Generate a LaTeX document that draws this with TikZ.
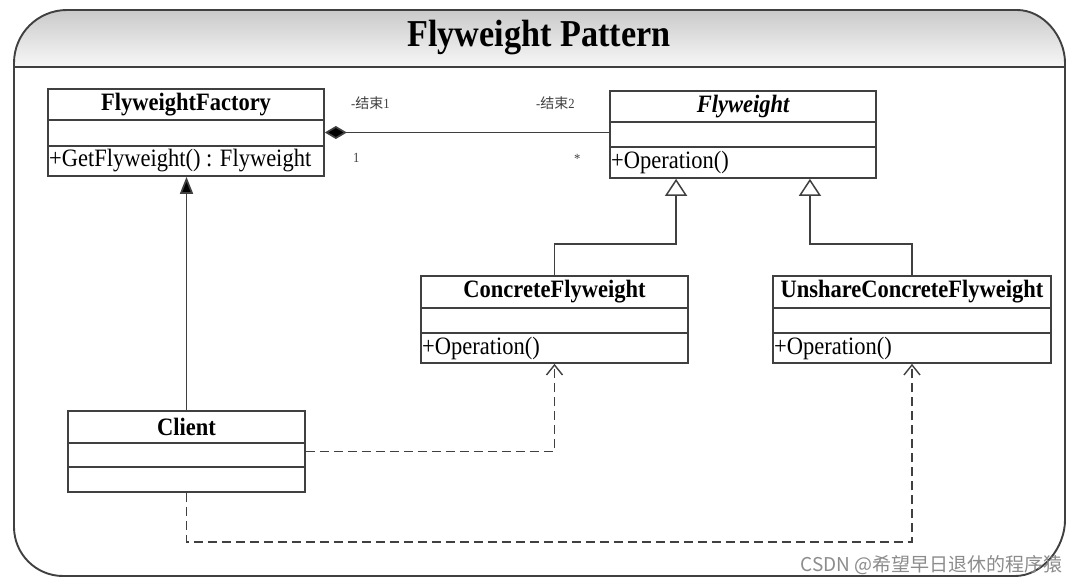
\documentclass[tikz,border=0pt]{standalone}
\usepackage{fontspec}
\setmainfont{Liberation Serif}[FakeStretch=0.9]
\newfontfamily\cjk{Noto Sans CJK SC}
\usetikzlibrary{arrows.meta,calc,fit}
\definecolor{ln}{HTML}{404040}
\definecolor{wm}{HTML}{8C8C8C}
\tikzset{
  clsbox/.style={draw=ln, line width=1.7pt, fill=white, inner sep=0pt},
  sepline/.style={draw=ln, line width=1.7pt},
  clsname/.style={font=\fontsize{25}{28}\selectfont\bfseries, inner sep=0pt},
  clsop/.style={font=\fontsize{25}{28}\selectfont, inner sep=1pt, anchor=west},
  conn/.style={draw=ln, line width=1.7pt},
  comp/.style={conn, {Diamond[length=22pt,width=13pt,fill=black]}-},
  assoc/.style={conn, -{Triangle[length=17pt,width=13pt,fill=black]}},
  gen/.style={conn, -{Triangle[open,length=17pt,width=22pt,fill=white,line width=1.5pt]}},
  dep/.style={conn, dash pattern=on 9pt off 5pt, -{Straight Barb[length=10pt,width=16pt,line width=1.4pt]}},
  endlbl/.style={font=\fontsize{14}{16}\selectfont, text=ln, inner sep=0pt},
}
% #1 name, #2 x1, #3 y1, #4 x2, #5 y2, #6 sep1, #7 sep2, #8 title, #9 op
\newcommand\umlclass[9]{%
  \node[clsbox, fit={(#2,#3) (#4,#5)}] (#1) {};
  \draw[sepline] (#2,#6) -- (#4,#6);
  \draw[sepline] (#2,#7) -- (#4,#7);
  \node[clsname] (#1-t) at ($(#2,#3)!0.5!(#4,#6)$) {#8};
  \node[clsop] (#1-o) at ($(#2,#7)!0.5!(#2,#5)$) {#9};
}
\begin{document}
\begin{tikzpicture}[x=1pt,y=-1pt]
\useasboundingbox (0,0) rectangle (1078,583);
\fill[white] (0,0) rectangle (1078,583);
% outer frame
\def\framepath{(14,527) -- (14,63) .. controls (14,33.7) and (37.7,10) .. (67,10) -- (1017,10) .. controls (1043.5,10) and (1065,36.5) .. (1065,63) -- (1065,520) .. controls (1065,547.6) and (1042.6,576) .. (1015,576) -- (63,576) .. controls (36,576) and (14,554) .. (14,527) -- cycle}
\begin{scope}
  \clip \framepath;
  \shade[top color=black!24, bottom color=black!3] (0,0) rectangle (1078,67);
\end{scope}
\draw[draw=ln, line width=1.9pt] \framepath;
\draw[draw=ln, line width=1.9pt] (14,67) -- (1065,67);
\node[font=\fontsize{38}{42}\selectfont\bfseries, inner sep=0pt] (title) at (539,38) {Flyweight Pattern};
% classes
\umlclass{ff}{48}{89}{324}{176}{120}{146}{FlyweightFactory}{+GetFlyweight() : Flyweight}
\umlclass{fw}{610}{91}{876}{178}{122}{147}{\itshape Flyweight}{+Operation()}
\umlclass{cf}{421}{276}{688}{363}{308}{333}{ConcreteFlyweight}{+Operation()}
\umlclass{uc}{773}{276}{1051}{363}{308}{333}{UnshareConcreteFlyweight}{+Operation()}
\umlclass{cl}{68}{411}{305}{492}{443}{467}{Client}{}
% composition
\draw[comp] (ff.east) -- (ff.east -| fw.west);
\node[endlbl, anchor=west] (e1) at (351,103) {-{\cjk 结束}1};
\node[endlbl, anchor=west] (e2) at (536,103) {-{\cjk 结束}2};
\node[endlbl, anchor=west] (m1) at (353,158) {1};
\node[endlbl, anchor=west] (m2) at (574,159) {*};
% client -> factory
\draw[assoc] (cl.north) -- (cl.north |- ff.south);
% generalizations
\coordinate (fwa) at ($(fw.south west)!0.25!(fw.south east)$);
\coordinate (fwb) at ($(fw.south west)!0.75!(fw.south east)$);
\draw[gen] (cf.north) -- ++(0,-31) -| (fwa);
\draw[gen] (uc.north) -- ++(0,-31) -| (fwb);
% dependencies
\draw[dep] (cl.east) -| (cf.south);
\draw[dep] (cl.south) -- ++(0,49) -| (uc.south);
% watermark
\node[font=\cjk\fontsize{19}{22}\selectfont, text=wm, anchor=east, inner sep=0pt] (wmk) at (1063,565) {CSDN @希望早日退休的程序猿};
\end{tikzpicture}
\end{document}
